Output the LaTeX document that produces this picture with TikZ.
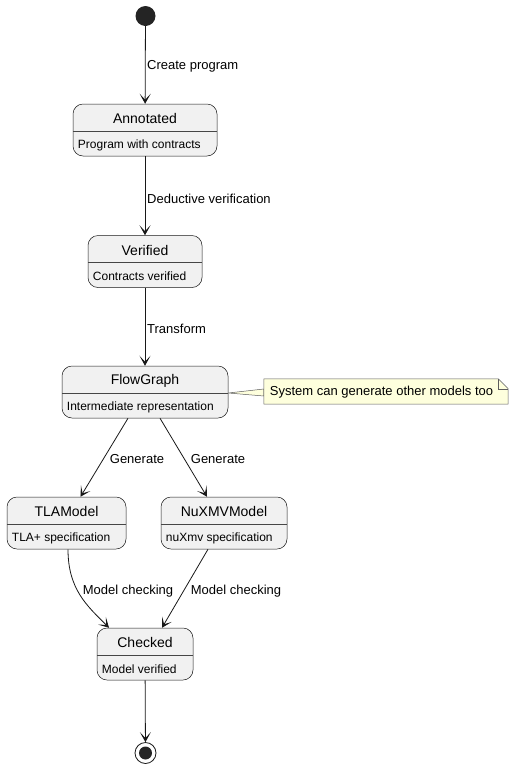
\documentclass[tikz,border=0pt]{standalone}
\usepackage{fontspec}
\setmainfont{Liberation Sans}
\usetikzlibrary{arrows.meta}

\definecolor{stateFill}{HTML}{F1F1F1}
\definecolor{lineDark}{HTML}{181818}
\definecolor{noteFill}{HTML}{FEFFDD}

\tikzset{
  statebox/.style={draw=lineDark, line width=0.5pt, fill=stateFill, rounded corners=10pt,
    minimum height=52pt, inner sep=0pt},
  title/.style={font=\fontsize{14}{16}\selectfont, inner sep=0pt},
  desc/.style={font=\fontsize{12}{14}\selectfont, inner sep=0pt},
  lbl/.style={font=\fontsize{13}{15}\selectfont, inner sep=0pt},
  trans/.style={draw=lineDark, line width=0.8pt, -{Stealth[length=10pt,width=11pt,inset=6pt]}}
}

% name, x, y, width, title, description
\newcommand{\umlstate}[6]{%
  \node[statebox, minimum width=#4] (#1) at (#2,#3) {};
  \draw[draw=lineDark!80, line width=0.5pt] ([yshift=-1pt]#1.west) -- ([yshift=-1pt]#1.east);
  \node[title] (#1Title) at ([yshift=11.5pt]#1.center) {#5};
  \node[desc, anchor=west] (#1Desc) at ([shift={(5pt,-15pt)}]#1.west) {#6};
}

\begin{document}
\begin{tikzpicture}[x=1pt, y=1pt]
  \useasboundingbox (0,0) rectangle (514,-769);

  \node (start) at (145.5,-16) [circle, fill=lineDark!95, minimum size=20pt, inner sep=0pt] {};

  \umlstate{annotated}{145}{-130}{144pt}{Annotated}{Program with contracts}
  \umlstate{verified}{145}{-261.5}{114pt}{Verified}{Contracts verified}
  \umlstate{flow}{145}{-392}{166pt}{FlowGraph}{Intermediate representation}
  \umlstate{tla}{66.5}{-523}{119pt}{TLAModel}{TLA+ specification}
  \umlstate{nuxmv}{224}{-523}{126pt}{NuXMVModel}{nuXmv specification}
  \umlstate{checked}{145}{-654}{96pt}{Checked}{Model verified}

  \node (end) at (145.5,-753) [circle, draw=lineDark, line width=0.8pt, minimum size=21pt, inner sep=0pt] {};
  \node (endDot) at (end.center) [circle, fill=lineDark!95, minimum size=13pt, inner sep=0pt] {};

  % note
  \node (note) at (386,-391.5) [minimum width=244pt, minimum height=25pt, inner sep=0pt] {};
  \filldraw[fill=noteFill, draw=lineDark!70, line width=0.5pt]
    ([yshift=-1pt]flow.east) -- ([yshift=2.5pt]note.west) -- ([yshift=-4.5pt]note.west) -- cycle;
  \filldraw[fill=noteFill, draw=lineDark!70, line width=0.5pt]
    (note.south west) -- (note.north west) -- ([xshift=-10pt]note.north east)
    -- ([yshift=-10pt]note.north east) -- (note.south east) -- cycle;
  \draw[draw=lineDark!70, line width=0.5pt]
    ([xshift=-10pt]note.north east) -- ([shift={(-10pt,-10pt)}]note.north east) -- ([yshift=-10pt]note.north east);
  \node[lbl] (noteText) at ([shift={(-4.5pt,-1pt)}]note.center) {System can generate other models too};

  % transitions
  \foreach \source/\dest in {start/annotated, annotated/verified, verified/flow, checked/end}
    \draw[trans] (\source) -- (\dest);
  \draw[trans] ([xshift=-17pt]flow.south) -- ([xshift=14pt]tla.north);
  \draw[trans] ([xshift=15pt]flow.south) -- ([xshift=-17pt]nuxmv.north);
  \draw[trans] ([xshift=1.5pt]tla.south) .. controls +(0,-40) and +(-22,22) .. ([xshift=-36pt]checked.north);
  \draw[trans] ([xshift=-16pt]nuxmv.south) -- ([xshift=17pt]checked.north);

  % labels
  \node[lbl, anchor=west] (lblCreate) at (147,-66.5) {Create program};
  \node[lbl, anchor=west] (lblDeduce) at (147,-198.5) {Deductive verification};
  \node[lbl, anchor=west] (lblTransform) at (147,-328.5) {Transform};
  \node[lbl] (lblGenTla) at (137,-459.5) {Generate};
  \node[lbl] (lblGenNux) at (218,-459.5) {Generate};
  \node[lbl] (lblCheckTla) at (128,-591.5) {Model checking};
  \node[lbl] (lblCheckNux) at (236,-591.5) {Model checking};
\end{tikzpicture}
\end{document}
